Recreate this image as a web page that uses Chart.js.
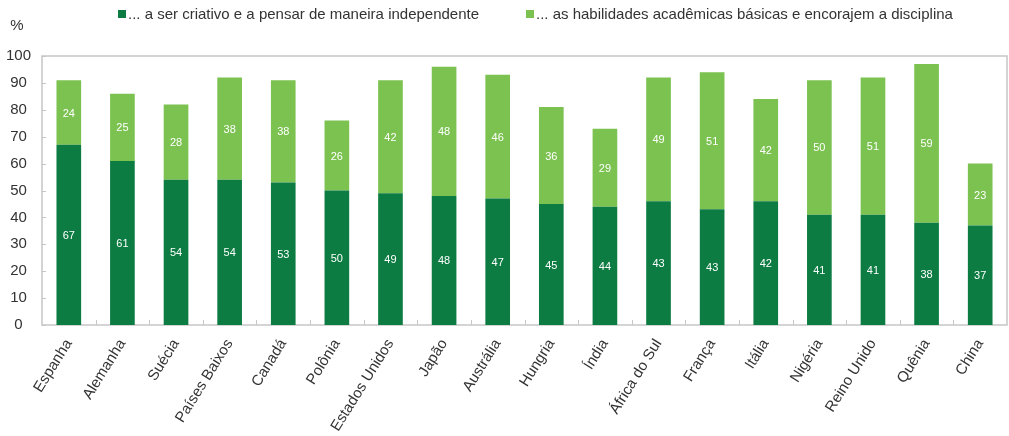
<!DOCTYPE html>
<html lang="pt">
<head>
<meta charset="utf-8">
<title>Criatividade x disciplina</title>
<script src="https://cdn.jsdelivr.net/npm/chart.js@4.4.0/dist/chart.umd.min.js"></script>
<style>
  html, body { margin: 0; padding: 0; background: #fff; }
  #wrap { position: relative; width: 1009px; height: 436px; }
</style>
</head>
<body>
<div id="wrap"><canvas id="grafico"></canvas></div>
<script>
const paises = ['Espanha', 'Alemanha', 'Suécia', 'Países Baixos', 'Canadá', 'Polônia', 'Estados Unidos',
  'Japão', 'Austrália', 'Hungria', 'Índia', 'África do Sul', 'França', 'Itália', 'Nigéria',
  'Reino Unido', 'Quênia', 'China'];

// bar heights as drawn in the picture
const criativo = [67, 61, 54, 54, 53, 50, 49, 48, 47, 45, 44, 46, 43, 46, 41, 41, 38, 37];
const academico = [24, 25, 28, 38, 38, 26, 42, 48, 46, 36, 29, 46, 51, 38, 50, 51, 59, 23];

// numbers printed inside the bars (África do Sul and Itália are drawn a bit off their label)
const rotulosCriativo = [67, 61, 54, 54, 53, 50, 49, 48, 47, 45, 44, 43, 43, 42, 41, 41, 38, 37];
const rotulosAcademico = [24, 25, 28, 38, 38, 26, 42, 48, 46, 36, 29, 49, 51, 42, 50, 51, 59, 23];

const ticksY = [0, 10, 20, 30, 40, 50, 60, 70, 80, 90, 100];

const legendas = [
  '... a ser criativo e a pensar de maneira independente',
  '... as habilidades acadêmicas básicas e encorajem a disciplina'
];

const FONTE = "'Liberation Sans', Arial, Helvetica, sans-serif";
const VERDE_ESCURO = '#0c7c42';
const VERDE_CLARO = '#7bc250';
const COR_TEXTO = '#333333';
const COR_EIXO = '#c6c6c6';

// frame, small inner ticks, labels inside bars, legend and the % sign
const extras = {
  id: 'extras',
  beforeDatasetsDraw(chart) {
    const { ctx, chartArea: a, scales: { x, y } } = chart;
    ctx.save();
    ctx.strokeStyle = COR_EIXO;
    ctx.lineWidth = 1.5;
    ctx.strokeRect(a.left, a.top, a.right - a.left, a.bottom - a.top);

    ctx.lineWidth = 1;
    ctx.beginPath();
    ticksY.forEach(v => {
      const py = Math.round(y.getPixelForValue(v)) + 0.5;
      ctx.moveTo(a.left, py);
      ctx.lineTo(a.left + 4, py);
    });
    for (let i = 1; i < paises.length; i++) {
      const px = Math.round((x.getPixelForValue(i - 1) + x.getPixelForValue(i)) / 2) + 0.5;
      ctx.moveTo(px, a.bottom);
      ctx.lineTo(px, a.bottom - 5);
    }
    ctx.stroke();
    ctx.restore();
  },
  afterDatasetsDraw(chart) {
    const { ctx } = chart;
    const todos = [rotulosCriativo, rotulosAcademico];
    ctx.save();
    ctx.fillStyle = '#ffffff';
    ctx.font = '11px ' + FONTE;
    ctx.textAlign = 'center';
    ctx.textBaseline = 'middle';
    todos.forEach((rotulos, d) => {
      const meta = chart.getDatasetMeta(d);
      meta.data.forEach((barra, i) => {
        ctx.fillText(String(rotulos[i]), barra.x, (barra.y + barra.base) / 2 + 1);
      });
    });
    ctx.restore();
  },
  afterDraw(chart) {
    const { ctx } = chart;
    ctx.save();
    ctx.font = '15px ' + FONTE;
    ctx.textBaseline = 'middle';
    ctx.fillStyle = COR_TEXTO;
    ctx.textAlign = 'center';
    ctx.fillText('%', 17, 26);

    ctx.textAlign = 'left';
    const posicoes = [118, 526];
    chart.data.datasets.forEach((ds, i) => {
      ctx.fillStyle = ds.backgroundColor;
      ctx.fillRect(posicoes[i], 10, 8, 8);
      ctx.fillStyle = COR_TEXTO;
      ctx.fillText(ds.label, posicoes[i] + 10, 15);
    });
    ctx.restore();
  }
};

const ctx = document.getElementById('grafico').getContext('2d');
new Chart(ctx, {
  type: 'bar',
  data: {
    labels: paises,
    datasets: [
      { label: legendas[0], data: criativo, backgroundColor: VERDE_ESCURO },
      { label: legendas[1], data: academico, backgroundColor: VERDE_CLARO }
    ]
  },
  options: {
    responsive: true,
    maintainAspectRatio: false,
    animation: false,
    layout: { padding: { top: 56, left: 6, right: 2, bottom: 0 } },
    datasets: { bar: { categoryPercentage: 1, barPercentage: 0.46 } },
    plugins: {
      legend: { display: false },
      tooltip: { enabled: false }
    },
    scales: {
      x: {
        stacked: true,
        grid: { display: false },
        border: { display: false },
        ticks: {
          autoSkip: false,
          minRotation: 58,
          maxRotation: 58,
          padding: 3,
          color: COR_TEXTO,
          font: { family: FONTE, size: 15 }
        },
        // let the rotated labels hang out to the left like in the original
        afterFit(scale) {
          scale.paddingLeft = 0;
          scale.paddingRight = 0;
          scale.height = 111;
        }
      },
      y: {
        stacked: true,
        min: 0,
        max: 100,
        grid: { display: false, drawTicks: false },
        border: { display: false },
        ticks: {
          stepSize: 10,
          crossAlign: 'center',
          padding: 11,
          color: COR_TEXTO,
          font: { family: FONTE, size: 15 }
        },
        afterFit(scale) {
          scale.width = 36;
        }
      }
    }
  },
  plugins: [extras]
});
</script>
</body>
</html>
